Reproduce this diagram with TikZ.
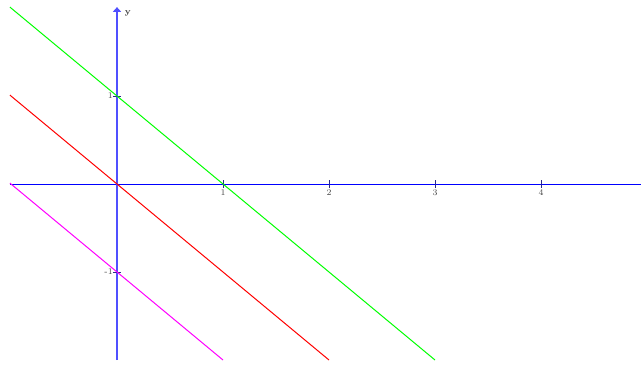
\documentclass[tikz,border=0pt]{standalone}
\usetikzlibrary{arrows.meta}
\begin{document}
\begin{tikzpicture}[x=79.5pt,y=66pt,
  axx/.style={blue,line width=0.75pt},
  axy/.style={color={rgb,255:red,80;green,80;blue,255},line width=1.5pt},
  tck/.style={color={rgb,255:red,40;green,40;blue,140},line width=0.75pt},
  lbl/.style={font=\fontsize{6.5}{7}\selectfont,text=black!75,inner sep=1pt},
  graph/.style={line width=0.75pt}]
\useasboundingbox (-1.10377,-2.04545) rectangle (4.9434,2.09091);
% axes
\coordinate (xl) at (-1.01,0);
\coordinate (xr) at (4.95,0);
\coordinate (yb) at (0,-2.0);
\coordinate (yt) at (0,2.01);
\draw[axx] (xl) -- (xr);
\draw[axy,-{Triangle[length=3.5pt,width=6pt]}] (yb) -- (yt);
\node[lbl,anchor=west,font=\fontsize{6.5}{7}\selectfont\bfseries] (ylab) at (0.06,1.94) {y};
% x ticks
\foreach \i in {1,2,3,4}{
  \coordinate (xt\i) at (\i,0);
  \draw[tck] ([yshift=-3pt]xt\i) -- ([yshift=3pt]xt\i);
  \node[lbl,anchor=north] (xlab\i) at ([yshift=-3pt]xt\i) {\i};
}
% y ticks
\coordinate (yt1) at (0,1);
\coordinate (ytm1) at (0,-1);
\draw[tck] ([xshift=-3pt]yt1) -- ([xshift=3pt]yt1);
\draw[tck] ([xshift=-3pt]ytm1) -- ([xshift=3pt]ytm1);
\node[lbl,anchor=east] (ylab1) at ([xshift=-2pt]yt1) {1};
\node[lbl,anchor=east] (ylabm1) at ([xshift=-2pt]ytm1) {-1};
% graphs
\coordinate (g1) at (-1.01,2.01);
\coordinate (g2) at (3,-2);
\coordinate (r1) at (-1.01,1.01);
\coordinate (r2) at (2,-2);
\coordinate (m1) at (-1.01,0.01);
\coordinate (m2) at (1,-2);
\draw[graph,color={rgb,255:red,0;green,255;blue,0}] (g1) -- (g2);
\draw[graph,color={rgb,255:red,255;green,0;blue,0}] (r1) -- (r2);
\draw[graph,color={rgb,255:red,255;green,0;blue,255}] (m1) -- (m2);
\end{tikzpicture}
\end{document}
